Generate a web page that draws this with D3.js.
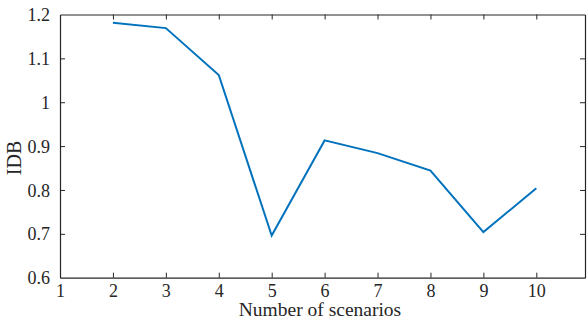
<!DOCTYPE html>
<html>
<head>
<meta charset="utf-8">
<script src="https://cdn.jsdelivr.net/npm/d3@7"></script>
<style>
  html, body { margin: 0; padding: 0; background: #fff; }
  svg { display: block; }
  text { font-family: "Liberation Serif", "Times New Roman", serif; fill: #262626; }
</style>
</head>
<body>
<svg id="chart" width="588" height="322"></svg>
<script>
// Number of scenarios vs. IDB
const scenarios = [2, 3, 4, 5, 6, 7, 8, 9, 10];
const idb = [1.181, 1.169, 1.062, 0.696, 0.913, 0.884, 0.844, 0.704, 0.804];
const xTicks = [1, 2, 3, 4, 5, 6, 7, 8, 9, 10];
const yTicks = [0.6, 0.7, 0.8, 0.9, 1, 1.1, 1.2];
const xTitle = "Number of scenarios";
const yTitle = "IDB";

const svg = d3.select("#chart");
const plotLeft = 60, plotRight = 585, plotTop = 14.5, plotBottom = 277.7;
const axisColor = "#262626";

const x = d3.scaleLinear().domain([1, 10.92]).range([plotLeft, plotRight]);
const y = d3.scaleLinear().domain([0.6, 1.2]).range([plotBottom, plotTop]);

const fmt = d => String(d);
const tickLen = 5;

// bottom axis (labels) and mirrored top ticks
const gx = svg.append("g").attr("transform", `translate(0,${plotBottom})`)
  .call(d3.axisBottom(x).tickValues(xTicks).tickFormat(fmt).tickSizeInner(-tickLen).tickSizeOuter(0));
const gxTop = svg.append("g").attr("transform", `translate(0,${plotTop})`)
  .call(d3.axisTop(x).tickValues(xTicks).tickFormat("").tickSizeInner(-tickLen).tickSizeOuter(0));

// left axis (labels) and mirrored right ticks
const gy = svg.append("g").attr("transform", `translate(${plotLeft},0)`)
  .call(d3.axisLeft(y).tickValues(yTicks).tickFormat(fmt).tickSizeInner(-tickLen).tickSizeOuter(0).tickPadding(10));
const gyRight = svg.append("g").attr("transform", `translate(${plotRight},0)`)
  .call(d3.axisRight(y).tickValues(yTicks).tickFormat("").tickSizeInner(-tickLen).tickSizeOuter(0));

[gx, gxTop, gy, gyRight].forEach(g => {
  g.select(".domain").attr("stroke", axisColor).attr("stroke-width", 1.2);
  g.selectAll(".tick line").attr("stroke", axisColor).attr("stroke-width", 1);
  g.selectAll(".tick text")
    .attr("fill", axisColor)
    .style("font-family", '"Liberation Serif", "Times New Roman", serif')
    .style("font-size", "18px");
});
// hide tick marks at the box corners
gx.selectAll(".tick").filter(d => d === 1).select("line").remove();
gxTop.selectAll(".tick").filter(d => d === 1).select("line").remove();
gy.selectAll(".tick").filter(d => d === 0.6 || d === 1.2).select("line").remove();
gyRight.selectAll(".tick").filter(d => d === 0.6 || d === 1.2).select("line").remove();
gy.selectAll(".tick text").attr("dy", "0.34em");
gx.selectAll(".tick text").attr("y", 19).attr("dy", 0);

// data line
const line = d3.line().x((d, i) => x(scenarios[i])).y(d => y(d));
svg.append("path")
  .datum(idb)
  .attr("fill", "none")
  .attr("stroke", "#0072BD")
  .attr("stroke-width", 2)
  .attr("stroke-linejoin", "miter")
  .attr("d", line);

// axis titles
svg.append("text")
  .attr("x", 320)
  .attr("y", 316)
  .attr("text-anchor", "middle")
  .style("font-size", "19.5px")
  .text(xTitle);

svg.append("text")
  .attr("transform", `translate(21,158) rotate(-90)`)
  .attr("text-anchor", "middle")
  .style("font-size", "20px")
  .text(yTitle);
</script>
</body>
</html>
